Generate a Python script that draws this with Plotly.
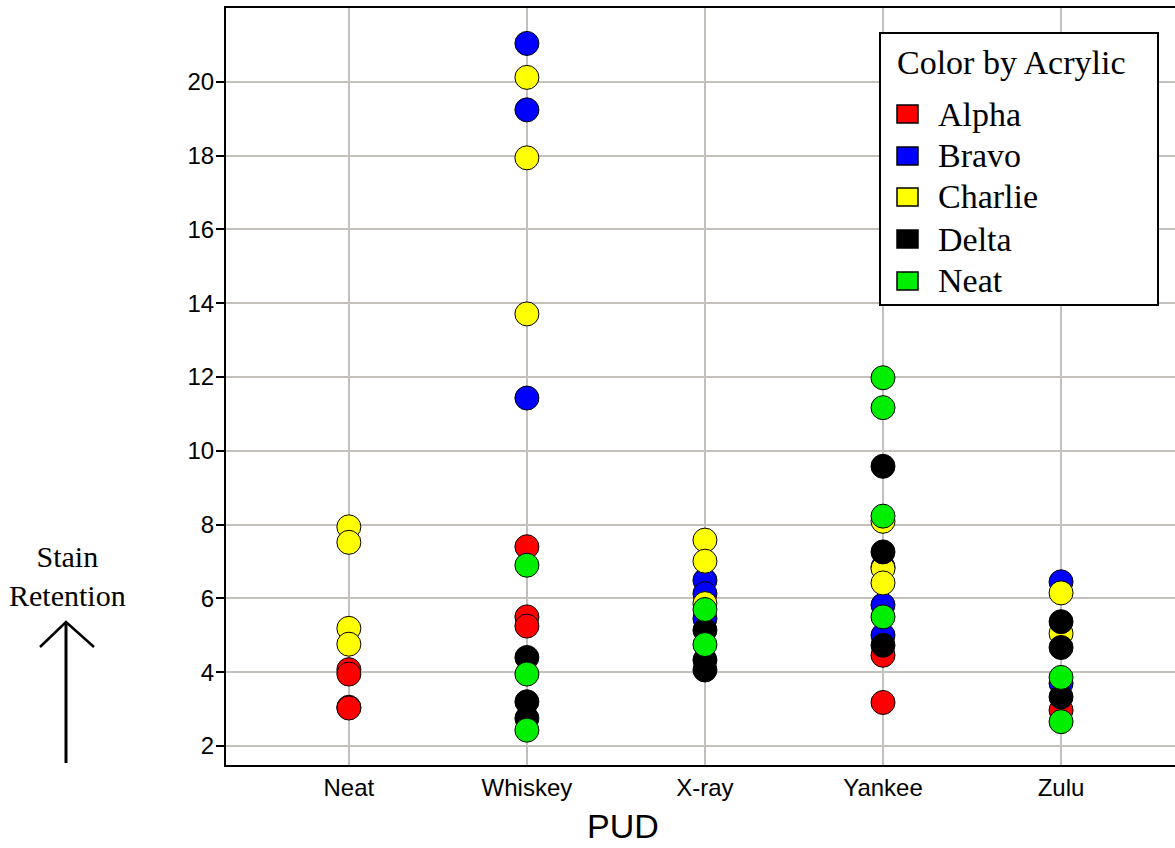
import plotly.graph_objects as go

categories = ["Neat", "Whiskey", "X-ray", "Yankee", "Zulu"]
series_names = ["Alpha", "Bravo", "Charlie", "Delta", "Neat"]
series_colors = ["#ff0000", "#0000ff", "#ffff00", "#000000", "#00ee00"]

# values per PUD category for each acrylic series
alpha = {"Neat": [4.07, 3.95, 3.05, 3.03], "Whiskey": [7.40, 5.50, 5.25], "X-ray": [],
         "Yankee": [4.46, 3.18], "Zulu": [2.97]}
bravo = {"Neat": [], "Whiskey": [21.04, 19.24, 11.43], "X-ray": [6.49, 6.13, 5.45],
         "Yankee": [6.85, 5.82, 5.00], "Zulu": [6.45, 3.70]}
charlie = {"Neat": [7.94, 7.52, 5.19, 4.76], "Whiskey": [20.12, 17.94, 13.71],
           "X-ray": [7.58, 7.01, 5.86], "Yankee": [8.09, 6.81, 6.42], "Zulu": [6.15, 5.05]}
delta = {"Neat": [], "Whiskey": [4.40, 3.20, 2.75], "X-ray": [5.14, 4.33, 4.06],
         "Yankee": [9.58, 7.26, 4.73], "Zulu": [5.37, 4.67, 3.33]}
neat = {"Neat": [], "Whiskey": [6.90, 3.95, 2.43], "X-ray": [5.70, 4.75],
        "Yankee": [11.98, 11.17, 8.23, 5.50], "Zulu": [3.86, 2.66]}

y_ticks = [2, 4, 6, 8, 10, 12, 14, 16, 18, 20]

all_series = [alpha, bravo, charlie, delta, neat]

W, H = 1175, 848
L, R, T, B = 226, 0, 8, 83
pw, ph = W - L - R, H - T - B

fig = go.Figure()
for name, color, data in zip(series_names, series_colors, all_series):
    xs, ys = [], []
    for i, c in enumerate(categories):
        for v in data[c]:
            xs.append(i)
            ys.append(v)
    fig.add_trace(go.Scatter(
        x=xs, y=ys, mode="markers", showlegend=False, name=name,
        marker=dict(size=24, color=color, line=dict(color="black", width=1)),
    ))


def px_x(p):
    return (p - L) / pw


def px_y(p):
    return (H - B - p) / ph


# manual legend box
fig.add_shape(type="rect", xref="paper", yref="paper",
              x0=px_x(880), x1=px_x(1158), y0=px_y(305), y1=px_y(33),
              fillcolor="white", line=dict(color="black", width=2), layer="above")
fig.add_annotation(xref="paper", yref="paper", x=px_x(895), y=px_y(62),
                   text="Color by Acrylic", showarrow=False, xanchor="left", yanchor="middle",
                   font=dict(family="Liberation Serif", size=34, color="black"))
item_y = [114, 156, 197, 239, 281]
for name, color, yy in zip(series_names, series_colors, item_y):
    fig.add_shape(type="rect", xref="paper", yref="paper",
                  x0=px_x(897), x1=px_x(918), y0=px_y(yy + 9), y1=px_y(yy - 9),
                  fillcolor=color, line=dict(color="black", width=1.5), layer="above")
    fig.add_annotation(xref="paper", yref="paper", x=px_x(936), y=px_y(yy),
                       text=name, showarrow=False, xanchor="left", yanchor="middle",
                       font=dict(family="Liberation Serif", size=34, color="black"))

# y-axis title with open arrow
fig.add_shape(type="line", xref="paper", yref="paper",
              x0=px_x(66), x1=px_x(66), y0=px_y(763), y1=px_y(622),
              line=dict(color="black", width=3))
fig.add_shape(type="path", xref="paper", yref="paper",
              path=f"M {px_x(40)} {px_y(647)} L {px_x(66)} {px_y(622)} L {px_x(94)} {px_y(647)}",
              line=dict(color="black", width=2.5))
fig.add_annotation(xref="paper", yref="paper", x=px_x(67), y=px_y(576),
                   text="Stain<br>Retention", showarrow=False,
                   font=dict(family="Liberation Serif", size=30, color="black"),
                   align="center", xanchor="center", yanchor="middle")

# x-axis title
fig.add_annotation(xref="paper", yref="paper", x=px_x(623), y=px_y(826),
                   text="PUD", showarrow=False, xanchor="center", yanchor="middle",
                   font=dict(family="Liberation Sans", size=34, color="black"))

fig.update_layout(
    width=W, height=H,
    margin=dict(l=L, r=R, t=T, b=B, pad=0),
    paper_bgcolor="white", plot_bgcolor="white",
    font=dict(family="Liberation Sans", color="black"),
    showlegend=False,
    xaxis=dict(
        range=[-0.69, 4.64],
        tickmode="array", tickvals=list(range(len(categories))), ticktext=categories,
        tickfont=dict(size=24, family="Liberation Sans"),
        showgrid=True, gridcolor="#c4c0bc", gridwidth=2,
        showline=True, linecolor="black", linewidth=2, mirror=True,
        ticks="", zeroline=False,
    ),
    yaxis=dict(
        range=[1.486, 22.0],
        tickmode="array", tickvals=y_ticks, ticktext=[str(t) for t in y_ticks],
        tickfont=dict(size=24, family="Liberation Sans"),
        showgrid=True, gridcolor="#c4c0bc", gridwidth=2,
        showline=True, linecolor="black", linewidth=2, mirror=False,
        ticks="outside", ticklen=8, tickcolor="black", tickwidth=2,
        ticklabelstandoff=-3,
        zeroline=False,
    ),
)

fig.write_html("out.html")
